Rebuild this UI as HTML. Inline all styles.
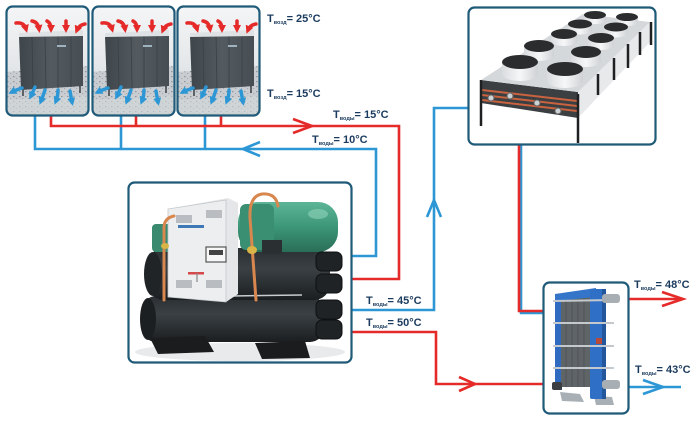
<!DOCTYPE html>
<html><head><meta charset="utf-8"><style>
html,body{margin:0;padding:0;background:#fff;}
svg{display:block;}
text{font-family:"Liberation Sans",sans-serif;font-weight:bold;fill:#1b3b5e;}
</style></head><body>
<svg width="700" height="424" viewBox="0 0 700 424" xmlns="http://www.w3.org/2000/svg">
<defs>
 <linearGradient id="pbg" x1="0" y1="0" x2="0" y2="1">
  <stop offset="0" stop-color="#f4f5f6"/><stop offset="0.55" stop-color="#e4e7e9"/><stop offset="1" stop-color="#c7ccd0"/>
 </linearGradient>
 <linearGradient id="cab" x1="0" y1="0" x2="1" y2="0">
  <stop offset="0" stop-color="#3e464c"/><stop offset="0.5" stop-color="#535b61"/><stop offset="1" stop-color="#464e54"/>
 </linearGradient>
 <linearGradient id="grn" x1="0" y1="0" x2="0" y2="1">
  <stop offset="0" stop-color="#5cb596"/><stop offset="0.5" stop-color="#3c9677"/><stop offset="1" stop-color="#2a6e57"/>
 </linearGradient>
 <linearGradient id="blk" x1="0" y1="0" x2="0" y2="1">
  <stop offset="0" stop-color="#2a2f32"/><stop offset="0.4" stop-color="#3a4044"/><stop offset="1" stop-color="#1b1e20"/>
 </linearGradient>
 <linearGradient id="shr" x1="0" y1="0" x2="1" y2="0">
  <stop offset="0" stop-color="#d9dcde"/><stop offset="0.5" stop-color="#f6f7f8"/><stop offset="1" stop-color="#cfd2d5"/>
 </linearGradient>
 <pattern id="dots" width="6" height="5" patternUnits="userSpaceOnUse">
  <rect width="6" height="5" fill="#c9cdd1"/>
  <rect x="1" y="1" width="1.5" height="1.2" fill="#8e959b"/>
  <rect x="4" y="3" width="1.2" height="1" fill="#a2a8ad"/>
 </pattern>
 <marker id="rh" markerUnits="userSpaceOnUse" markerWidth="10" markerHeight="10" refX="4" refY="4" orient="auto">
  <path d="M0,0 L8,4 L0,8 Z" fill="#e52a2a"/>
 </marker>
 <marker id="bh" markerUnits="userSpaceOnUse" markerWidth="10" markerHeight="10" refX="4" refY="4" orient="auto">
  <path d="M0,0 L8,4 L0,8 Z" fill="#2d97d6"/>
 </marker>
 <clipPath id="pc"><rect x="7" y="7" width="81" height="108" rx="5"/></clipPath>
 <g id="pnl">
  <g clip-path="url(#pc)">
   <rect x="6" y="6" width="83" height="110" fill="url(#pbg)"/>
   <polygon points="6,72 89,66 89,116 6,116" fill="url(#dots)"/>
   <polygon points="6,100 89,96 89,116 6,116" fill="#d4d8db" opacity="0.6"/>
   <polygon points="19,36 83,33 83,86 21,90" fill="url(#cab)"/>
   <g stroke="#394046" stroke-width="0.8">
    <line x1="32" y1="36" x2="33" y2="89"/><line x1="45" y1="35" x2="46" y2="88"/>
    <line x1="58" y1="35" x2="58" y2="88"/><line x1="71" y1="34" x2="71" y2="87"/>
   </g>
   <polygon points="19,33 83,30 83,36 19,37" fill="#dfe2e4"/>
   <rect x="57" y="45" width="9" height="2" fill="#9fb2c0"/>
   <line x1="23" y1="88" x2="23" y2="96" stroke="#3a4045" stroke-width="1.5"/>
   <line x1="80" y1="86" x2="80" y2="93" stroke="#3a4045" stroke-width="1.5"/>
   <g fill="none" stroke="#e52a2a" stroke-width="3.5" stroke-linecap="round">
    <path d="M16,23 Q24,22 26,29" marker-end="url(#rh)"/>
    <path d="M32,21 Q38,22 39,29" marker-end="url(#rh)"/>
    <path d="M47,21 Q51,23 51,29" marker-end="url(#rh)"/>
    <path d="M66,21 L66,29" marker-end="url(#rh)"/>
    <path d="M85,24 Q79,25 77,30" marker-end="url(#rh)"/>
   </g>
   <g fill="none" stroke="#2d97d6" stroke-width="3.5" stroke-linecap="round">
    <path d="M22,88 Q16,90 12,92" marker-end="url(#bh)"/>
    <path d="M35,87 Q33,92 31,96" marker-end="url(#bh)"/>
    <path d="M45,90 Q43,96 41,101" marker-end="url(#bh)"/>
    <path d="M58,90 Q58,96 56,101" marker-end="url(#bh)"/>
    <path d="M70,91 Q71,97 72,102" marker-end="url(#bh)"/>
   </g>
  </g>
  <rect x="6.5" y="6.5" width="82" height="109" rx="6" fill="none" stroke="#1f5a78" stroke-width="2.2"/>
 </g>
</defs>

<rect width="700" height="424" fill="#fff"/>

<g fill="none" stroke-width="2.6" stroke-linejoin="miter">
 <polyline points="35,116 35,149 376,149 376,256 352,256" stroke="#2d97d6"/>
 <line x1="121" y1="116" x2="121" y2="149" stroke="#2d97d6"/>
 <line x1="205" y1="116" x2="205" y2="149" stroke="#2d97d6"/>
 <polyline points="51,116 51,126 399,126 399,279 352,279" stroke="#e52a2a"/>
 <line x1="136" y1="116" x2="136" y2="126" stroke="#e52a2a"/>
 <line x1="221" y1="116" x2="221" y2="126" stroke="#e52a2a"/>
 <polyline points="293,119 312,126 293,133" stroke="#e52a2a"/>
 <polyline points="260,142 243,149 260,156" stroke="#2d97d6"/>
 <polyline points="352,310 434,310 434,108 468,108" stroke="#2d97d6"/>
 <polyline points="427,217 434,200 441,217" stroke="#2d97d6"/>
 <polyline points="352,332 436,332 436,384 543,384" stroke="#e52a2a"/>
 <polyline points="459,377 475,384 459,391" stroke="#e52a2a"/>
 <polyline points="521,145 521,313 543,313" stroke="#2d97d6"/>
 <polyline points="519,145 519,311 543,311" stroke="#e52a2a"/>
 <line x1="629" y1="299" x2="683" y2="299" stroke="#e52a2a"/>
 <polyline points="662,292 683,299 662,306" stroke="#e52a2a"/>
 <line x1="629" y1="387" x2="681" y2="387" stroke="#2d97d6"/>
 <polyline points="643,380 663,387 643,394" stroke="#2d97d6"/>
</g>

<use href="#pnl"/>
<use href="#pnl" transform="translate(86,0)"/>
<use href="#pnl" transform="translate(171,0)"/>

<!-- chiller -->
<rect x="128.5" y="182.5" width="223" height="180" rx="6" fill="#fff"/>
<ellipse cx="240" cy="352" rx="105" ry="9" fill="#e8eaec"/>
<rect x="142" y="296" width="182" height="46" rx="14" fill="url(#blk)"/>
<ellipse cx="148" cy="319" rx="8" ry="21" fill="#1c1f21"/>
<rect x="148" y="248" width="182" height="52" rx="16" fill="url(#blk)"/>
<ellipse cx="153" cy="274" rx="9" ry="22" fill="#202426"/>
<line x1="232" y1="296" x2="302" y2="295" stroke="#c9ccce" stroke-width="1.5"/>
<polygon points="150,338 205,336 214,352 158,354" fill="#1a1c1e"/>
<polygon points="255,343 305,341 310,358 262,359" fill="#1a1c1e"/>
<rect x="152" y="224" width="22" height="28" rx="4" fill="#3a8a70"/>
<rect x="238" y="202" width="100" height="50" rx="20" fill="url(#grn)"/>
<rect x="240" y="204" width="34" height="46" rx="6" fill="#3a8f72"/>
<ellipse cx="318" cy="214" rx="10" ry="5" fill="#8fd3bb" opacity="0.6"/>
<rect x="262" y="240" width="20" height="14" fill="#2a2f32"/>
<polygon points="168,209 228,198 238,203 238,294 226,302 168,297" fill="#e4e6e8"/>
<polygon points="168,209 226,200 226,302 168,297" fill="#eceef0" stroke="#c4c8cb" stroke-width="0.8"/>
<g fill="#b9bdc1">
 <rect x="176" y="215" width="16" height="8"/><rect x="206" y="210" width="16" height="8"/>
 <rect x="176" y="280" width="16" height="8"/><rect x="206" y="280" width="16" height="8"/>
</g>
<rect x="178" y="225" width="26" height="3" fill="#3f79b5"/>
<rect x="206" y="247" width="20" height="15" fill="#f7f7f7" stroke="#555" stroke-width="1.2"/>
<rect x="209" y="250" width="14" height="5" fill="#444"/>
<rect x="188" y="272" width="16" height="2.5" fill="#d44a4a"/>
<line x1="197" y1="273" x2="197" y2="282" stroke="#888" stroke-width="1.2"/>
<g fill="none" stroke="#d8874f" stroke-width="3" stroke-linecap="round">
 <path d="M164,300 L164,228 Q164,218 174,216"/>
 <path d="M256,300 L250,218 Q249,196 262,194 Q276,193 278,206"/>
</g>
<ellipse cx="165" cy="246" rx="4" ry="3" fill="#d9b447"/>
<ellipse cx="252" cy="250" rx="5" ry="4" fill="#d9b447"/>
<g fill="#1f2326" stroke="#0f1112" stroke-width="1">
 <rect x="316" y="252" width="26" height="19" rx="6"/>
 <rect x="316" y="274" width="26" height="19" rx="6"/>
 <rect x="316" y="300" width="26" height="19" rx="6"/>
 <rect x="316" y="320" width="26" height="19" rx="6"/>
</g>
<rect x="128.5" y="182.5" width="223" height="180" rx="6" fill="none" stroke="#1f5a78" stroke-width="2.2"/>

<!-- condenser -->
<rect x="468.5" y="7.5" width="187" height="137" rx="6" fill="#fff"/>
<polygon points="578,92 650,22 652,40 578,118" fill="#e7e9eb"/>
<polygon points="481,80 578,92 578,118 481,103" fill="#3b3f42"/>
<g stroke="#c9623e" stroke-width="2">
 <line x1="482" y1="90" x2="577" y2="101"/>
 <line x1="482" y1="95" x2="577" y2="106"/>
 <line x1="482" y1="100" x2="577" y2="111"/>
</g>
<g fill="#cfd2d4" stroke="#666" stroke-width="1">
 <circle cx="491" cy="98" r="3"/><circle cx="510" cy="96" r="3"/><circle cx="537" cy="103" r="3"/><circle cx="558" cy="111" r="3"/>
</g>
<polygon points="481,80 578,92 650,22 583,14" fill="#d5d8da"/>
<!-- fan shrouds -->
<g fill="url(#shr)">
 <path d="M502,62 L538,62 L538,74 A18,7 0 0 1 502,74 Z"/>
 <path d="M547,69 L583,69 L583,81 A18,7 0 0 1 547,81 Z"/>
 <path d="M524,46 L554,46 L554,55 A15,6 0 0 1 524,55 Z"/>
 <path d="M571,52 L601,52 L601,61 A15,6 0 0 1 571,61 Z"/>
 <path d="M551,34 L577,34 L577,41 A13,5 0 0 1 551,41 Z"/>
 <path d="M588,38 L614,38 L614,45 A13,5 0 0 1 588,45 Z"/>
 <path d="M568,24 L592,24 L592,30 A12,4.5 0 0 1 568,30 Z"/>
 <path d="M604,27 L628,27 L628,33 A12,4.5 0 0 1 604,33 Z"/>
 <path d="M584,15 L606,15 L606,20 A11,4 0 0 1 584,20 Z"/>
 <path d="M616,17 L638,17 L638,22 A11,4 0 0 1 616,22 Z"/>
</g>
<g fill="#2a2c2e">
 <ellipse cx="520" cy="62" rx="18" ry="7"/><ellipse cx="539" cy="46" rx="15" ry="6"/>
 <ellipse cx="564" cy="34" rx="13" ry="5"/><ellipse cx="580" cy="24" rx="12" ry="4.5"/><ellipse cx="595" cy="15" rx="11" ry="4"/>
 <ellipse cx="565" cy="69" rx="18" ry="7"/><ellipse cx="586" cy="52" rx="15" ry="6"/>
 <ellipse cx="601" cy="38" rx="13" ry="5"/><ellipse cx="616" cy="27" rx="12" ry="4.5"/><ellipse cx="627" cy="17" rx="11" ry="4"/>
</g>
<g stroke="#1e2022" stroke-width="2.5">
 <line x1="481" y1="80" x2="481" y2="126"/>
 <line x1="578" y1="94" x2="578" y2="143"/>
 <line x1="598" y1="74" x2="598" y2="95"/>
 <line x1="614" y1="58" x2="614" y2="80"/>
 <line x1="628" y1="44" x2="628" y2="68"/>
 <line x1="640" y1="32" x2="640" y2="55"/>
 <line x1="651" y1="22" x2="651" y2="45"/>
</g>
<rect x="468.5" y="7.5" width="187" height="137" rx="6" fill="none" stroke="#1f5a78" stroke-width="2.2"/>

<!-- heat exchanger -->
<rect x="543.5" y="282.5" width="85" height="131" rx="6" fill="#fff"/>
<polygon points="560,392 580,394 584,402 562,401" fill="#a9b0b5"/>
<polygon points="594,396 612,397 614,405 596,405" fill="#a9b0b5"/>
<rect x="555" y="296" width="7" height="94" fill="#2f6bc1"/>
<rect x="561" y="297" width="31" height="90" fill="#5f6467"/>
<g stroke="#4e5255" stroke-width="0.8">
 <line x1="566" y1="297" x2="566" y2="387"/><line x1="572" y1="297" x2="572" y2="387"/>
 <line x1="578" y1="297" x2="578" y2="387"/><line x1="584" y1="297" x2="584" y2="387"/>
</g>
<polygon points="555,294 596,288 596,297 555,301" fill="#3474c9"/>
<rect x="590" y="289" width="16" height="110" rx="2" fill="#2f6fc6"/>
<rect x="602" y="289" width="4" height="110" fill="#24569c"/>
<g stroke="#c3c9cd" stroke-width="2">
 <line x1="553" y1="301" x2="614" y2="300"/>
 <line x1="553" y1="323" x2="614" y2="323"/>
 <line x1="553" y1="346" x2="614" y2="346"/>
 <line x1="553" y1="368" x2="614" y2="368"/>
</g>
<rect x="602" y="294" width="18" height="9" rx="3" fill="#a8afb4"/>
<rect x="602" y="380" width="18" height="9" rx="3" fill="#a8afb4"/>
<rect x="552" y="382" width="10" height="8" rx="2" fill="#3b3f42"/>
<rect x="596" y="338" width="6" height="6" fill="#b84a3a"/>
<rect x="543.5" y="282.5" width="85" height="131" rx="6" fill="none" stroke="#1f5a78" stroke-width="2.2"/>

<text x="267" y="22" font-size="11">T<tspan font-size="5.5" dy="2">возд</tspan><tspan dy="-2">= 25°C</tspan></text>
<text x="267" y="97" font-size="11">T<tspan font-size="5.5" dy="2">возд</tspan><tspan dy="-2">= 15°C</tspan></text>
<text x="333" y="118" font-size="11">T<tspan font-size="5.5" dy="2">воды</tspan><tspan dy="-2">= 15°C</tspan></text>
<text x="312" y="143" font-size="11">T<tspan font-size="5.5" dy="2">воды</tspan><tspan dy="-2">= 10°C</tspan></text>
<text x="366" y="304" font-size="11">T<tspan font-size="5.5" dy="2">воды</tspan><tspan dy="-2">= 45°C</tspan></text>
<text x="366" y="326" font-size="11">T<tspan font-size="5.5" dy="2">воды</tspan><tspan dy="-2">= 50°C</tspan></text>
<text x="634" y="288" font-size="11">T<tspan font-size="5.5" dy="2">воды</tspan><tspan dy="-2">= 48°C</tspan></text>
<text x="635" y="373" font-size="11">T<tspan font-size="5.5" dy="2">воды</tspan><tspan dy="-2">= 43°C</tspan></text>
</svg>
</body></html>
